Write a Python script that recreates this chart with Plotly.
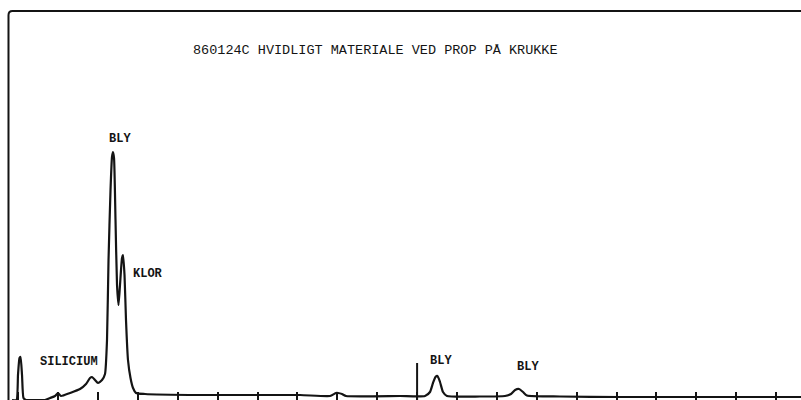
import plotly.graph_objects as go

# X-ray fluorescence spectrum: energy (keV) vs. counts
energy_kev = [
    -0.153, -0.040, -0.003, 0.035, 0.060, 0.098, 0.135, 0.198, 0.424, 0.674,
    0.800, 0.925, 1.000, 1.075, 1.300, 1.551, 1.702, 1.802, 1.852, 1.927,
    2.002, 2.103, 2.178, 2.228, 2.266, 2.316, 2.353, 2.378, 2.404, 2.441,
    2.479, 2.516, 2.554, 2.604, 2.629, 2.667, 2.704, 2.754, 2.817, 2.880,
    2.955, 3.180, 4.559, 7.065, 7.817, 7.967, 8.018, 8.118, 8.218, 9.571,
    10.198, 10.323, 10.398, 10.461, 10.511, 10.574, 10.649, 10.749, 11.576, 12.203,
    12.353, 12.456, 12.556, 12.654, 12.754, 13.581, 15.085, 17.090, 19.622,
]
counts = [
    0, 0, 250, 420, 430, 250, 20, 0, 0, 0,
    20, 40, 70, 40, 70, 110, 160, 220, 230, 200,
    170, 200, 260, 600, 1400, 2100, 2430, 2480, 2420, 1800,
    1150, 950, 1150, 1420, 1450, 1250, 800, 400, 220, 120,
    70, 60, 50, 50, 40, 70, 70, 60, 40, 40,
    40, 80, 170, 230, 240, 180, 80, 40, 35, 40,
    60, 100, 110, 80, 45, 35, 30, 30, 30,
]

# Energy marker line
marker_kev = [10.0, 10.0]
marker_counts = [0, 370]

# Element labels
label_texts = ["BLY", "KLOR", "SILICIUM", "BLY", "BLY"]
label_kev = [2.541, 3.256, 1.263, 10.587, 12.792]
label_counts = [2615, 1265, 380, 395, 335]

title_text = "860124C HVIDLIGT MATERIALE VED PROP PÅ KRUKKE"

ink = "#141414"

fig = go.Figure()
fig.add_trace(go.Scatter(
    x=energy_kev, y=counts, mode="lines",
    line=dict(color=ink, width=2.2, shape="spline", smoothing=0.5),
    hoverinfo="skip", showlegend=False,
))
fig.add_trace(go.Scatter(
    x=marker_kev, y=marker_counts, mode="lines",
    line=dict(color=ink, width=2),
    hoverinfo="skip", showlegend=False,
))

for txt, ex, cy in zip(label_texts, label_kev, label_counts):
    fig.add_annotation(
        x=ex, y=cy, text=f"<b>{txt}</b>", showarrow=False,
        xanchor="center", yanchor="middle",
        font=dict(family="Liberation Mono", size=12, color=ink),
    )

fig.add_annotation(
    x=0.4694, y=0.875, xref="paper", yref="paper", text=title_text,
    showarrow=False, xanchor="center", yanchor="middle",
    font=dict(family="Liberation Mono", size=13.5, color=ink),
)

# Chart frame: left and top border with a rounded corner
fig.add_shape(
    type="path", xref="paper", yref="paper",
    path="M 0.0106,0 L 0.0106,0.962 Q 0.0106,0.9725 0.0156,0.9725 L 1.0,0.9725",
    line=dict(color=ink, width=2),
)

fig.update_layout(
    width=801, height=400,
    margin=dict(l=0, r=0, t=0, b=0),
    paper_bgcolor="white", plot_bgcolor="white",
    xaxis=dict(
        range=[-0.454, 19.622], showgrid=False, zeroline=False, showline=False,
        ticks="inside", ticklen=8, tickwidth=2, tickcolor=ink,
        tick0=0, dtick=1, showticklabels=False, fixedrange=True,
    ),
    yaxis=dict(
        range=[0, 4000], showgrid=False, zeroline=False, showline=False,
        showticklabels=False, ticks="", fixedrange=True,
    ),
)

fig.write_html("out.html")
